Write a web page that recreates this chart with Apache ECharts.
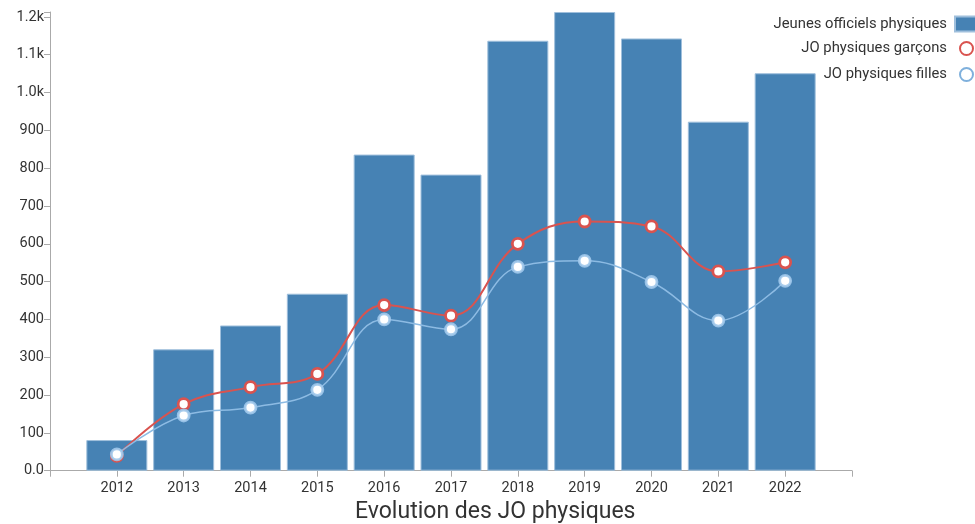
<!DOCTYPE html>
<html>
<head>
<meta charset="utf-8">
<script src="https://cdn.jsdelivr.net/npm/echarts@6/dist/echarts.min.js"></script>
<style>
html,body{margin:0;padding:0;background:#fff;}
#chart{width:975px;height:524px;}
</style>
</head>
<body>
<div id="chart"></div>
<script>
var years = [2012, 2013, 2014, 2015, 2016, 2017, 2018, 2019, 2020, 2021, 2022];
var jeunesOfficiels = [81, 321, 384, 468, 836, 783, 1137, 1213, 1143, 923, 1051];
var garcons = [39, 176, 221, 256, 438, 410, 600, 659, 646, 527, 551];
var filles = [43, 146, 167, 214, 400, 374, 539, 555, 499, 397, 502];
var seriesNames = ['Jeunes officiels physiques', 'JO physiques garçons', 'JO physiques filles'];
var chartTitle = 'Evolution des JO physiques';

function pairs(vals) { return years.map(function (y, i) { return [y, vals[i]]; }); }

var FONT = 'Roboto';
var chart = echarts.init(document.getElementById('chart'), null, { renderer: 'canvas' });
chart.setOption({
  animation: false,
  textStyle: { fontFamily: FONT },
  title: {
    text: chartTitle, left: 355, top: 501, padding: 0,
    textStyle: { fontFamily: FONT, fontSize: 23, fontWeight: 'normal', color: '#333' }
  },
  legend: [{
    orient: 'vertical', align: 'right', right: -3, top: 15.5, padding: 0,
    itemWidth: 22, itemHeight: 15, itemGap: 10,
    textStyle: { fontFamily: FONT, fontSize: 14.8, color: '#333', padding: [0, 3, 0, 0] },
    data: [{ name: seriesNames[0], icon: 'rect' }]
  }, {
    orient: 'vertical', align: 'right', right: 1, top: 41, padding: 0,
    itemWidth: 13, itemHeight: 13, itemGap: 11,
    textStyle: { fontFamily: FONT, fontSize: 14.8, color: '#333', padding: [0, 8, 0, 0] },
    data: [
      { name: seriesNames[1], icon: 'circle', itemStyle: { color: '#fff', borderColor: '#d9534f', borderWidth: 2 } },
      { name: seriesNames[2], icon: 'circle', itemStyle: { color: '#fff', borderColor: '#7fb0dc', borderWidth: 2 } }
    ]
  }],
  grid: { left: 50, right: 123, top: 12, bottom: 53.3, containLabel: false },
  xAxis: {
    type: 'value', min: 2011, max: 2023, interval: 1,
    axisLine: { show: true, lineStyle: { color: '#aaa', width: 1 } },
    axisTick: { show: true, length: 6, lineStyle: { color: '#aaa' } },
    splitLine: { show: false },
    axisLabel: {
      color: '#333', fontSize: 14.5, fontFamily: FONT, margin: 10,
      formatter: function (v) { return (v < years[0] || v > years[years.length - 1]) ? '' : String(v); }
    }
  },
  yAxis: {
    type: 'value', min: 0, max: function (e) { return e.max; }, interval: 100,
    axisLine: { show: true, lineStyle: { color: '#aaa', width: 1 } },
    axisTick: { show: true, length: 6, lineStyle: { color: '#aaa' } },
    splitLine: { show: false },
    axisLabel: {
      color: '#333', fontSize: 14.5, fontFamily: FONT, margin: 6, showMaxLabel: true,
      formatter: function (v) {
        if (v % 100 !== 0) return '';
        if (v === 0) return '0.0';
        if (v >= 1000) return (v / 1000).toFixed(1) + 'k';
        return String(v);
      }
    }
  },
  series: [{
    name: seriesNames[0], type: 'bar', barWidth: 61,
    itemStyle: { color: '#4682b4', borderColor: '#9fbfdc', borderWidth: 1 },
    data: pairs(jeunesOfficiels), z: 1
  }, {
    name: seriesNames[1], type: 'line', smooth: 0.4,
    symbol: 'circle', symbolSize: 11,
    lineStyle: { color: '#d9534f', width: 2 },
    itemStyle: { color: '#fff', borderColor: '#d9534f', borderWidth: 2.8 },
    data: pairs(garcons), z: 3
  }, {
    name: seriesNames[2], type: 'line', smooth: 0.4,
    symbol: 'circle', symbolSize: 11,
    lineStyle: { color: '#8dbbe3', width: 1.5 },
    itemStyle: { color: '#fff', borderColor: 'rgba(160,200,235,0.9)', borderWidth: 2.8 },
    data: pairs(filles), z: 4
  }]
});
</script>
</body>
</html>
